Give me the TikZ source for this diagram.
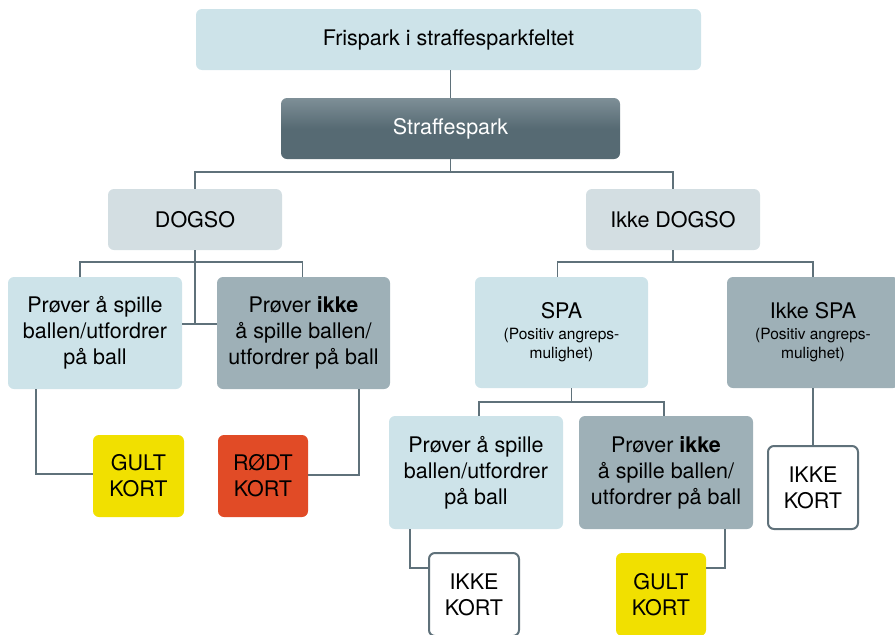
\documentclass[tikz,border=0pt]{standalone}
\usepackage{fontspec}
\setmainfont{TeX Gyre Heros}
\usetikzlibrary{calc}
\definecolor{lightbox}{HTML}{CDE3E9}
\definecolor{palebox}{HTML}{D3DEE2}
\definecolor{darkbox}{HTML}{9EB0B7}
\definecolor{conncol}{HTML}{5F717A}
\definecolor{yelcard}{HTML}{F1E000}
\definecolor{redcard}{HTML}{E14B26}
\definecolor{straftop}{HTML}{7E8F97}
\definecolor{strafbot}{HTML}{566A73}
\tikzset{
  box/.style={rounded corners=6pt, inner sep=0pt, align=center, text=black,
    font=\fontsize{21.5}{26}\selectfont},
  lightnode/.style={box, fill=lightbox},
  palenode/.style={box, fill=palebox},
  darknode/.style={box, fill=darkbox},
  card/.style={box, minimum width=90pt, minimum height=83pt},
  whitecard/.style={card, fill=white, draw=conncol, line width=2pt},
  conn/.style={draw=conncol, line width=1.5pt},
}
\newcommand{\smalltxt}{\fontsize{15.5}{19}\selectfont}
\begin{document}
\begin{tikzpicture}[x=1pt,y=-1pt]
\useasboundingbox (0,0) rectangle (895,635);
\clip (0,0) rectangle (895,635);
% nodes
\node[lightnode, minimum width=505pt, minimum height=61pt] (top) at (448.5,39.5) {Frispark i straffesparkfeltet};
\node[box, top color=straftop, bottom color=strafbot, middle color=strafbot, text=white, minimum width=339pt, minimum height=61pt] (straf) at (450.5,128.5) {Straffespark};
\node[palenode, minimum width=174pt, minimum height=61pt] (dogso) at (195,219.5) {DOGSO};
\node[palenode, minimum width=174pt, minimum height=61pt] (ikkedogso) at (673,219.5) {Ikke DOGSO};
\node[lightnode, minimum width=174pt, minimum height=112pt] (dl) at (95,333) {Prøver å spille\\ballen/utfordrer\\på ball};
\node[darknode, minimum width=173pt, minimum height=112pt] (dr) at (303.5,333) {Prøver \textbf{ikke}\\å spille ballen/\\utfordrer på ball};
\node[card, fill=yelcard, minimum width=91pt, minimum height=82pt] (gult1) at (138.5,476) {GULT\\KORT};
\node[card, fill=redcard, minimum height=82pt] (rodt) at (263,476) {RØDT\\KORT};
\node[lightnode, minimum width=173pt, minimum height=111pt] (spa) at (561.5,332.5) {SPA\\[-5pt]\smalltxt (Positiv angreps-\\[-7pt]\smalltxt mulighet)};
\node[darknode, minimum width=172pt, minimum height=111pt] (ikkespa) at (813,332.5) {Ikke SPA\\[-5pt]\smalltxt (Positiv angreps-\\[-7pt]\smalltxt mulighet)};
\node[lightnode, minimum width=174pt, minimum height=113pt] (sl) at (476,472.5) {Prøver å spille\\ballen/utfordrer\\på ball};
\node[darknode, minimum width=174pt, minimum height=113pt] (sr) at (666,472.5) {Prøver \textbf{ikke}\\å spille ballen/\\utfordrer på ball};
\node[whitecard] (ikke1) at (813,487.5) {IKKE\\KORT};
\node[whitecard] (ikke2) at (474,594.5) {IKKE\\KORT};
\node[card, fill=yelcard] (gult2) at (661,594.5) {GULT\\KORT};
% connectors
\draw[conn] (straf.north) -- (straf.north |- top.south);
\draw[conn] (straf.south) -- ++(0,13) coordinate (b1);
\draw[conn] (dogso.north) |- (b1) -| (ikkedogso.north);
\coordinate (b2) at ($(dogso.south)+(0,12)$);
\coordinate (m1) at ($(dl.east)+(0,-9)$);
\draw[conn] (m1) -- (dr.west |- m1);
\draw[conn] (dogso.south) -- (dogso.south |- m1);
\draw[conn] ($(dl.north)+(-15,0)$) |- (b2) -| ($(dr.north)+(-1,0)$);
\coordinate (b3) at ($(ikkedogso.south)+(0,12)$);
\draw[conn] (ikkedogso.south) -- (b3);
\draw[conn] ($(spa.north)+(-4,0)$) |- (b3) -| (ikkespa.north);
\draw[conn] ($(spa.south)+(10,0)$) -- ++(0,14) coordinate (b4);
\draw[conn] ($(sl.north)+(3,0)$) |- (b4) -| ($(sr.north)+(-2,0)$);
\draw[conn] (ikkespa.south) -- (ikke1.north);
\draw[conn] ($(dl.south)+(-59,0)$) |- ($(gult1.west)+(0,-2)$);
\draw[conn] ($(dr.south)+(55.5,0)$) |- ($(rodt.east)+(0,-1)$);
\draw[conn] ($(sl.south)+(-66,0)$) |- ($(ikke2.west)+(0,-26.5)$);
\draw[conn] ($(sr.south)+(59,0)$) |- ($(gult2.east)+(0,-26.5)$);
\end{tikzpicture}
\end{document}
